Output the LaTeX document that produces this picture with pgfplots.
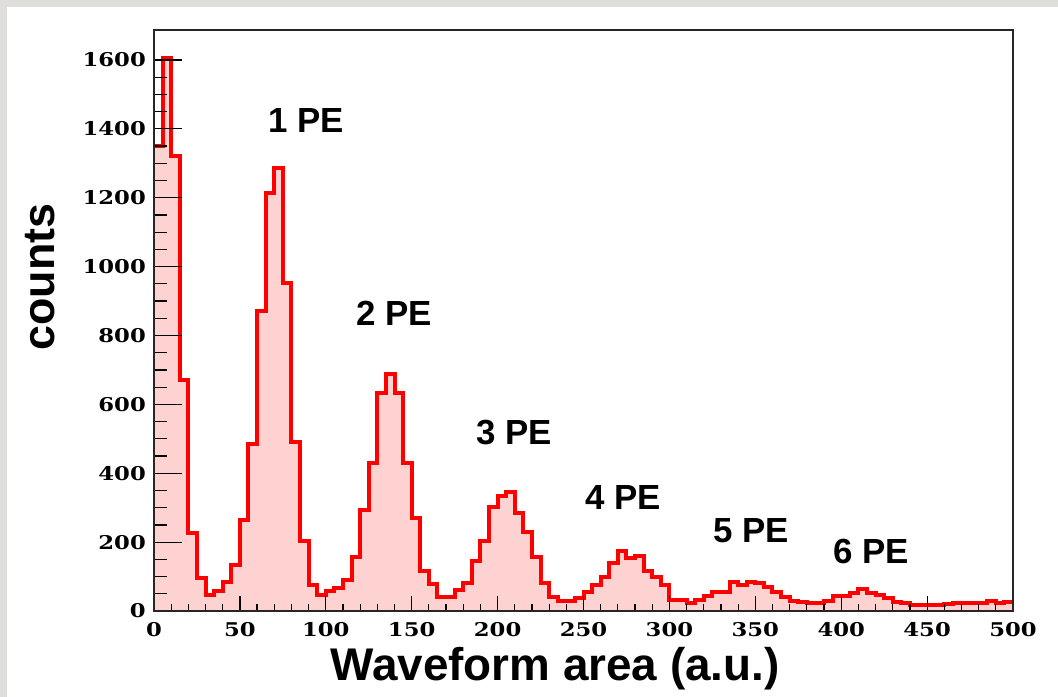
\documentclass[border=0pt]{standalone}
\usepackage{pgfplots}
\usepackage{pgfplotstable}
\pgfplotsset{compat=1.18}
\usepackage{fontspec}
\setmainfont{Liberation Sans}
\newfontfamily\tickfont{DejaVu Serif}[FakeStretch=1.2]
\definecolor{pinkfill}{RGB}{255,210,210}
\definecolor{bgray}{RGB}{224,222,218}
\pgfplotstableread{
x y
0 1350
5 1605
10 1320
15 672
20 226
25 95
30 46
35 57
40 84
45 133
50 265
55 484
60 870
65 1215
70 1287
75 952
80 490
85 202
90 75
95 46
100 58
105 66
110 90
115 156
120 293
125 431
130 634
135 688
140 634
145 431
150 269
155 117
160 78
165 42
170 42
175 61
180 82
185 146
190 204
195 303
200 334
205 347
210 286
215 230
220 158
225 80
230 42
235 30
240 30
245 38
250 55
255 75
260 100
265 140
270 175
275 155
280 160
285 115
290 100
295 75
300 32
305 32
310 24
315 32
320 44
325 56
330 56
335 85
340 75
345 85
350 80
355 71
360 56
365 42
370 28
375 27
380 22
385 22
390 30
395 45
400 45
405 53
410 63
415 53
420 46
425 37
430 27
435 22
440 17
445 17
450 17
455 17
460 20
465 22
470 22
475 24
480 24
485 30
490 24
495 26
500 26
}\histdata
\begin{document}
\begin{tikzpicture}[x=1bp,y=1bp]
\useasboundingbox (0,0) rectangle (1058,-697);
\fill[bgray] (0,0) rectangle (1058,-697);
\fill[white] (7,-7) rectangle (1058,-697);
\begin{axis}[
  at={(154bp,-611bp)}, anchor=south west,
  scale only axis, width=859bp, height=581bp,
  xmin=0, xmax=500, ymin=0, ymax=1687,
  xtick={0,50,...,500}, ytick={0,200,...,1600},
  minor x tick num=4, minor y tick num=3,
  tick pos=left, tick align=inside,
  axis on top,
  axis line style={black!85, line width=1.5bp},
  tick style={black, line width=1.2bp},
  x tick style={/pgfplots/major tick length=15bp, /pgfplots/minor tick length=7bp},
  y tick style={/pgfplots/major tick length=28bp, /pgfplots/minor tick length=13bp},
  /pgf/number format/assume math mode=true,
  /pgf/number format/1000 sep={},
  ticklabel style={font=\tickfont\bfseries\fontsize{19}{19}\selectfont, inner sep=0pt},
  yticklabel style={anchor=east, xshift=-8bp},
  xticklabel style={anchor=north, yshift=-11bp},
  xlabel={\bfseries\fontsize{46}{46}\selectfont Waveform area (a.u.)},
  ylabel={\bfseries\fontsize{45}{45}\selectfont counts},
  xlabel style={at={(axis description cs:0.467,-0.1188)}, anchor=base, inner sep=0pt},
  ylabel style={at={(axis description cs:-0.1153,0.575)}, anchor=base, rotate=0, inner sep=0pt},
]
\addplot[const plot, fill=pinkfill, draw=none] table[x=x,y=y] {\histdata} \closedcycle;
\addplot[const plot, draw=red, line width=4bp] table[x=x,y=y] {\histdata};
\begin{scope}[every node/.style={font=\bfseries\fontsize{35}{35}\selectfont, inner sep=0pt}]
\node at (axis cs:88.5,1423) {1 PE};
\node at (axis cs:139.7,865) {2 PE};
\node at (axis cs:209.5,517) {3 PE};
\node at (axis cs:273,331) {4 PE};
\node at (axis cs:347.5,232) {5 PE};
\node at (axis cs:417.3,174) {6 PE};
\end{scope}
\end{axis}
\end{tikzpicture}
\end{document}
